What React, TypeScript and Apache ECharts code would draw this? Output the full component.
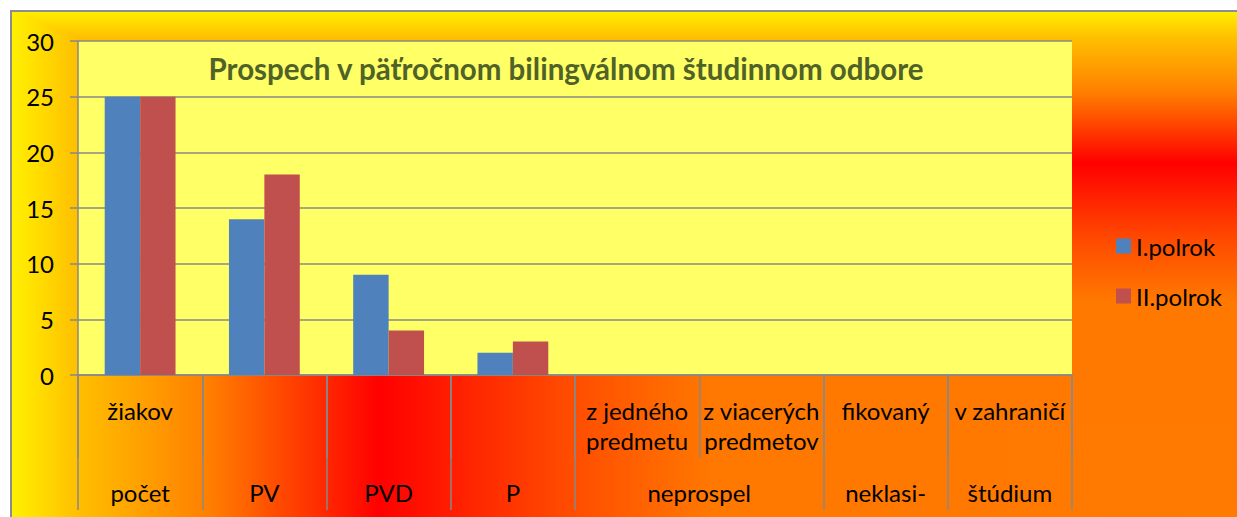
import React, { useEffect, useRef } from "react";
import * as echarts from "echarts";

const subLabels = ["žiakov", "", "", "", "z jedného\npredmetu", "z viacerých\npredmetov", "fikovaný", "v zahraničí"];
const groupLabels = ["počet", "PV", "PVD", "P", "neprospel", "neklasi-", "štúdium"];
const groupSpans = [1, 1, 1, 1, 2, 1, 1];
const seriesNames = ["I.polrok", "II.polrok"];
const firstHalf = [25, 14, 9, 2, 0, 0, 0, 0];
const secondHalf = [25, 18, 4, 3, 0, 0, 0, 0];
const titleText = "Prospech v päťročnom bilingválnom študinnom odbore";

const FONT = "Lato, 'Open Sans', sans-serif";

export default function App() {
  const ref = useRef<HTMLDivElement>(null);
  useEffect(() => {
    if (!ref.current) return;
    const chart = echarts.init(ref.current, null, { renderer: "svg" });

    const bounds: number[] = [0];
    const centers: number[] = [];
    let acc = 0;
    groupSpans.forEach((s) => {
      centers.push(acc + s / 2);
      acc += s;
      bounds.push(acc);
    });
    const centerName: Record<string, string> = {};
    centers.forEach((c, i) => (centerName[String(c)] = groupLabels[i]));

    const stops = [
      { offset: 0, color: "#FFF200" },
      { offset: 0.055, color: "#FFBF00" },
      { offset: 0.16, color: "#FF8000" },
      { offset: 0.3, color: "#FF0000" },
      { offset: 0.45, color: "#FF4A00" },
      { offset: 0.57, color: "#FF7800" },
      { offset: 1, color: "#FF7A00" },
    ];
    const X0 = 10, Y0 = 10, XC = 1240, YC = 520;

    chart.setOption({
      animation: false,
      graphic: [
        {
          type: "rect",
          z: -20,
          silent: true,
          shape: { x: X0, y: Y0, width: XC - X0, height: YC - Y0 },
          style: {
            fill: { type: "linear", x: 0, y: Y0, x2: 0, y2: YC, global: true, colorStops: stops },
          },
        },
        {
          type: "polygon",
          z: -19,
          silent: true,
          shape: { points: [[X0, Y0], [X0, YC], [XC, YC]] },
          style: {
            fill: { type: "linear", x: X0, y: 0, x2: XC, y2: 0, global: true, colorStops: stops },
          },
        },
        {
          type: "polyline",
          z: -18,
          silent: true,
          shape: { points: [[11, 520], [11, 11], [1240, 11]] },
          style: { stroke: "#8C8C8C", lineWidth: 2, fill: null },
        },
      ],
      title: {
        text: titleText,
        left: 561,
        top: 48,
        textAlign: "center",
        textStyle: { fontFamily: FONT, fontSize: 29.5, fontWeight: "bold", color: "#4F6228" },
      },
      legend: {
        orient: "vertical",
        left: 1111,
        top: 229,
        itemGap: 26,
        itemWidth: 15,
        itemHeight: 15,
        icon: "rect",
        textStyle: { fontFamily: FONT, fontSize: 24, color: "#000" },
        data: seriesNames,
      },
      grid: {
        left: 78,
        top: 41,
        right: 165,
        bottom: 142,
        show: true,
        backgroundColor: "#FFFF66",
        borderWidth: 0,
        containLabel: false,
      },
      xAxis: [
        {
          type: "category",
          data: subLabels.map((_, i) => "c" + i),
          axisLine: { show: true, lineStyle: { color: "#888", width: 1.5 } },
          axisTick: { show: true, length: 83, interval: 0, lineStyle: { color: "#888", width: 1.5 } },
          axisLabel: {
            interval: 0,
            margin: 20,
            fontFamily: FONT,
            fontSize: 24,
            lineHeight: 30,
            color: "#000",
            formatter: (_v: string, i: number) => subLabels[i],
          },
        },
        {
          type: "value",
          min: 0,
          max: 8,
          position: "bottom",
          axisLine: { show: false },
          splitLine: { show: false },
          axisTick: {
            show: true,
            length: 135,
            customValues: bounds,
            lineStyle: { color: "#888", width: 1.5 },
          },
          axisLabel: {
            margin: 102,
            fontFamily: FONT,
            fontSize: 24,
            lineHeight: 30,
            color: "#000",
            customValues: centers,
            formatter: (v: number) => centerName[String(v)] || "",
          },
        },
      ],
      yAxis: {
        type: "value",
        min: 0,
        max: 30,
        interval: 5,
        axisLine: { show: true, lineStyle: { color: "#888", width: 1.5 } },
        axisTick: { show: true, length: 8, lineStyle: { color: "#888", width: 1.5 } },
        splitLine: { show: true, lineStyle: { color: "#888", width: 1.5 } },
        axisLabel: { margin: 24, fontFamily: FONT, fontSize: 24, color: "#000" },
      },
      series: [
        {
          name: seriesNames[0],
          type: "bar",
          data: firstHalf,
          barGap: "0%",
          barCategoryGap: "43%",
          itemStyle: { color: "#4F81BD" },
        },
        {
          name: seriesNames[1],
          type: "bar",
          data: secondHalf,
          barGap: "0%",
          barCategoryGap: "43%",
          itemStyle: { color: "#C0504D" },
        },
      ],
    });
    return () => chart.dispose();
  }, []);
  return (
    <div
      ref={ref}
      style={{ position: "absolute", left: 0, top: 0, width: 1237, height: 517 }}
    />
  );
}
